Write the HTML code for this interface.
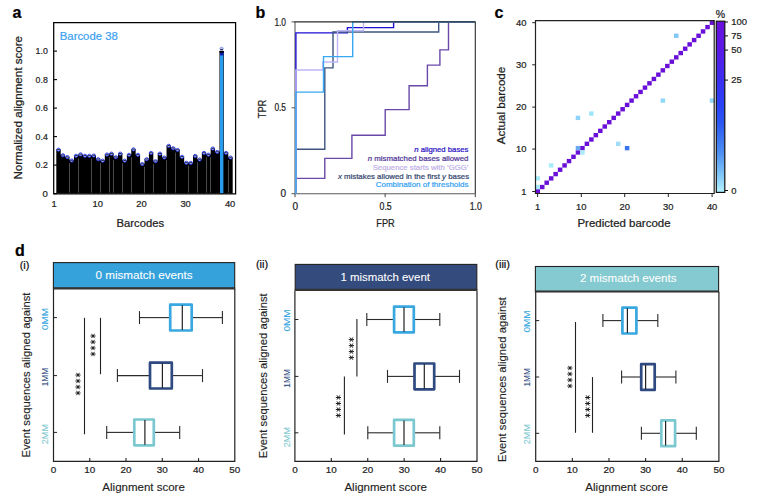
<!DOCTYPE html>
<html><head><meta charset="utf-8"><style>
html,body{margin:0;padding:0;background:#fff;width:760px;height:502px;overflow:hidden;}
svg{display:block;}
</style></head><body>
<svg width="760" height="502" viewBox="0 0 760 502" font-family='"Liberation Sans", sans-serif'><text x="12.5" y="18" font-size="16" text-anchor="start" fill="#000" font-weight="bold" font-style="normal" stroke="#000" stroke-width="0.22">a</text>
<text x="255.5" y="18" font-size="16" text-anchor="start" fill="#000" font-weight="bold" font-style="normal" stroke="#000" stroke-width="0.22">b</text>
<text x="494.5" y="18" font-size="16" text-anchor="start" fill="#000" font-weight="bold" font-style="normal" stroke="#000" stroke-width="0.22">c</text>
<text x="15" y="256" font-size="16" text-anchor="start" fill="#000" font-weight="bold" font-style="normal" stroke="#000" stroke-width="0.22">d</text>
<g>
<path d="M56.30,193.6 L56.30,149.28 L60.70,149.28 L60.70,154.84 L65.11,154.84 L65.11,156.69 L69.52,156.69 L69.53,160.11 L73.94,160.11 L73.94,155.41 L78.34,155.41 L78.34,153.98 L82.75,153.98 L82.76,155.41 L87.17,155.41 L87.17,155.41 L91.58,155.41 L91.58,155.12 L95.98,155.12 L95.98,158.83 L100.39,158.83 L100.39,160.25 L104.80,160.25 L104.81,154.13 L109.22,154.13 L109.22,153.27 L113.62,153.27 L113.62,156.83 L118.03,156.83 L118.04,153.27 L122.45,153.27 L122.45,160.25 L126.86,160.25 L126.86,154.41 L131.27,154.41 L131.26,149.00 L135.68,149.00 L135.67,154.41 L140.09,154.41 L140.09,163.68 L144.50,163.68 L144.49,158.83 L148.91,158.83 L148.91,152.56 L153.32,152.56 L153.31,160.82 L157.73,160.82 L157.72,153.27 L162.14,153.27 L162.13,157.12 L166.55,157.12 L166.54,145.44 L170.96,145.44 L170.95,147.86 L175.37,147.86 L175.36,149.57 L179.78,149.57 L179.78,156.41 L184.19,156.41 L184.18,162.39 L188.59,162.39 L188.59,162.53 L193.01,162.53 L193.00,155.55 L197.42,155.55 L197.41,159.12 L201.83,159.12 L201.82,152.56 L206.24,152.56 L206.23,154.27 L210.65,154.27 L210.64,148.14 L215.06,148.14 L215.05,151.56 L219.47,151.56 L219.47,50.90 L223.88,50.90 L223.88,152.56 L228.29,152.56 L228.28,157.12 L232.70,157.12 L232.70,193.6 Z" fill="#000"/>
<rect x="220" y="50.9" width="3.4" height="142.70" fill="#2a9cf0"/>
<line x1="69.50" y1="163.11" x2="69.50" y2="192.6" stroke="#4a4a4a" stroke-width="1"/>
<line x1="78.50" y1="158.41" x2="78.50" y2="192.6" stroke="#4a4a4a" stroke-width="1"/>
<line x1="91.50" y1="158.41" x2="91.50" y2="192.6" stroke="#4a4a4a" stroke-width="1"/>
<line x1="100.50" y1="163.25" x2="100.50" y2="192.6" stroke="#4a4a4a" stroke-width="1"/>
<line x1="109.50" y1="157.13" x2="109.50" y2="192.6" stroke="#4a4a4a" stroke-width="1"/>
<line x1="113.50" y1="159.83" x2="113.50" y2="192.6" stroke="#4a4a4a" stroke-width="1"/>
<line x1="122.50" y1="163.25" x2="122.50" y2="192.6" stroke="#4a4a4a" stroke-width="1"/>
<line x1="131.50" y1="157.41" x2="131.50" y2="192.6" stroke="#4a4a4a" stroke-width="1"/>
<line x1="144.50" y1="166.68" x2="144.50" y2="192.6" stroke="#4a4a4a" stroke-width="1"/>
<line x1="153.50" y1="163.82" x2="153.50" y2="192.6" stroke="#4a4a4a" stroke-width="1"/>
<line x1="166.50" y1="160.12" x2="166.50" y2="192.6" stroke="#4a4a4a" stroke-width="1"/>
<line x1="175.50" y1="152.57" x2="175.50" y2="192.6" stroke="#4a4a4a" stroke-width="1"/>
<line x1="188.50" y1="165.53" x2="188.50" y2="192.6" stroke="#4a4a4a" stroke-width="1"/>
<line x1="197.50" y1="162.12" x2="197.50" y2="192.6" stroke="#4a4a4a" stroke-width="1"/>
<line x1="206.50" y1="157.27" x2="206.50" y2="192.6" stroke="#4a4a4a" stroke-width="1"/>
<line x1="210.50" y1="157.27" x2="210.50" y2="192.6" stroke="#4a4a4a" stroke-width="1"/>
<line x1="228.50" y1="160.12" x2="228.50" y2="192.6" stroke="#4a4a4a" stroke-width="1"/>
<ellipse cx="58.50" cy="149.68" rx="1.7" ry="1.6" fill="#c0ccff" stroke="#1424e8" stroke-width="0.8"/>
<line x1="57.3" y1="149.4825" x2="59.7" y2="149.4825" stroke="#000" stroke-width="0.8"/>
<ellipse cx="62.91" cy="155.24" rx="1.7" ry="1.6" fill="#c0ccff" stroke="#1424e8" stroke-width="0.8"/>
<line x1="61.709999999999994" y1="155.03999999999996" x2="64.11" y2="155.03999999999996" stroke="#000" stroke-width="0.8"/>
<ellipse cx="67.32" cy="157.09" rx="1.7" ry="1.6" fill="#c0ccff" stroke="#1424e8" stroke-width="0.8"/>
<line x1="66.11999999999999" y1="156.89249999999998" x2="68.52" y2="156.89249999999998" stroke="#000" stroke-width="0.8"/>
<ellipse cx="71.73" cy="160.51" rx="1.7" ry="1.6" fill="#c0ccff" stroke="#1424e8" stroke-width="0.8"/>
<line x1="70.53" y1="160.3125" x2="72.93" y2="160.3125" stroke="#000" stroke-width="0.8"/>
<ellipse cx="76.14" cy="155.81" rx="1.7" ry="1.6" fill="#c0ccff" stroke="#1424e8" stroke-width="0.8"/>
<line x1="74.94" y1="155.60999999999999" x2="77.34" y2="155.60999999999999" stroke="#000" stroke-width="0.8"/>
<ellipse cx="80.55" cy="154.38" rx="1.7" ry="1.6" fill="#c0ccff" stroke="#1424e8" stroke-width="0.8"/>
<line x1="79.35" y1="154.18499999999997" x2="81.75" y2="154.18499999999997" stroke="#000" stroke-width="0.8"/>
<ellipse cx="84.96" cy="155.81" rx="1.7" ry="1.6" fill="#c0ccff" stroke="#1424e8" stroke-width="0.8"/>
<line x1="83.76" y1="155.60999999999999" x2="86.16000000000001" y2="155.60999999999999" stroke="#000" stroke-width="0.8"/>
<ellipse cx="89.37" cy="155.81" rx="1.7" ry="1.6" fill="#c0ccff" stroke="#1424e8" stroke-width="0.8"/>
<line x1="88.17" y1="155.60999999999999" x2="90.57000000000001" y2="155.60999999999999" stroke="#000" stroke-width="0.8"/>
<ellipse cx="93.78" cy="155.53" rx="1.7" ry="1.6" fill="#c0ccff" stroke="#1424e8" stroke-width="0.8"/>
<line x1="92.58" y1="155.325" x2="94.98" y2="155.325" stroke="#000" stroke-width="0.8"/>
<ellipse cx="98.19" cy="159.23" rx="1.7" ry="1.6" fill="#c0ccff" stroke="#1424e8" stroke-width="0.8"/>
<line x1="96.99" y1="159.02999999999997" x2="99.39" y2="159.02999999999997" stroke="#000" stroke-width="0.8"/>
<ellipse cx="102.60" cy="160.66" rx="1.7" ry="1.6" fill="#c0ccff" stroke="#1424e8" stroke-width="0.8"/>
<line x1="101.39999999999999" y1="160.45499999999998" x2="103.8" y2="160.45499999999998" stroke="#000" stroke-width="0.8"/>
<ellipse cx="107.01" cy="154.53" rx="1.7" ry="1.6" fill="#c0ccff" stroke="#1424e8" stroke-width="0.8"/>
<line x1="105.81" y1="154.3275" x2="108.21000000000001" y2="154.3275" stroke="#000" stroke-width="0.8"/>
<ellipse cx="111.42" cy="153.67" rx="1.7" ry="1.6" fill="#c0ccff" stroke="#1424e8" stroke-width="0.8"/>
<line x1="110.22" y1="153.4725" x2="112.62" y2="153.4725" stroke="#000" stroke-width="0.8"/>
<ellipse cx="115.83" cy="157.23" rx="1.7" ry="1.6" fill="#c0ccff" stroke="#1424e8" stroke-width="0.8"/>
<line x1="114.63" y1="157.03499999999997" x2="117.03" y2="157.03499999999997" stroke="#000" stroke-width="0.8"/>
<ellipse cx="120.24" cy="153.67" rx="1.7" ry="1.6" fill="#c0ccff" stroke="#1424e8" stroke-width="0.8"/>
<line x1="119.04" y1="153.4725" x2="121.44000000000001" y2="153.4725" stroke="#000" stroke-width="0.8"/>
<ellipse cx="124.65" cy="160.66" rx="1.7" ry="1.6" fill="#c0ccff" stroke="#1424e8" stroke-width="0.8"/>
<line x1="123.45" y1="160.45499999999998" x2="125.85000000000001" y2="160.45499999999998" stroke="#000" stroke-width="0.8"/>
<ellipse cx="129.06" cy="154.81" rx="1.7" ry="1.6" fill="#c0ccff" stroke="#1424e8" stroke-width="0.8"/>
<line x1="127.86" y1="154.61249999999998" x2="130.26" y2="154.61249999999998" stroke="#000" stroke-width="0.8"/>
<ellipse cx="133.47" cy="149.40" rx="1.7" ry="1.6" fill="#c0ccff" stroke="#1424e8" stroke-width="0.8"/>
<line x1="132.27" y1="149.1975" x2="134.67" y2="149.1975" stroke="#000" stroke-width="0.8"/>
<ellipse cx="137.88" cy="154.81" rx="1.7" ry="1.6" fill="#c0ccff" stroke="#1424e8" stroke-width="0.8"/>
<line x1="136.68" y1="154.61249999999998" x2="139.07999999999998" y2="154.61249999999998" stroke="#000" stroke-width="0.8"/>
<ellipse cx="142.29" cy="164.08" rx="1.7" ry="1.6" fill="#c0ccff" stroke="#1424e8" stroke-width="0.8"/>
<line x1="141.09000000000003" y1="163.875" x2="143.49" y2="163.875" stroke="#000" stroke-width="0.8"/>
<ellipse cx="146.70" cy="159.23" rx="1.7" ry="1.6" fill="#c0ccff" stroke="#1424e8" stroke-width="0.8"/>
<line x1="145.5" y1="159.02999999999997" x2="147.89999999999998" y2="159.02999999999997" stroke="#000" stroke-width="0.8"/>
<ellipse cx="151.11" cy="152.96" rx="1.7" ry="1.6" fill="#c0ccff" stroke="#1424e8" stroke-width="0.8"/>
<line x1="149.91000000000003" y1="152.76" x2="152.31" y2="152.76" stroke="#000" stroke-width="0.8"/>
<ellipse cx="155.52" cy="161.22" rx="1.7" ry="1.6" fill="#c0ccff" stroke="#1424e8" stroke-width="0.8"/>
<line x1="154.32000000000002" y1="161.02499999999998" x2="156.72" y2="161.02499999999998" stroke="#000" stroke-width="0.8"/>
<ellipse cx="159.93" cy="153.67" rx="1.7" ry="1.6" fill="#c0ccff" stroke="#1424e8" stroke-width="0.8"/>
<line x1="158.73000000000002" y1="153.4725" x2="161.13" y2="153.4725" stroke="#000" stroke-width="0.8"/>
<ellipse cx="164.34" cy="157.52" rx="1.7" ry="1.6" fill="#c0ccff" stroke="#1424e8" stroke-width="0.8"/>
<line x1="163.14000000000001" y1="157.32" x2="165.54" y2="157.32" stroke="#000" stroke-width="0.8"/>
<ellipse cx="168.75" cy="145.84" rx="1.7" ry="1.6" fill="#c0ccff" stroke="#1424e8" stroke-width="0.8"/>
<line x1="167.55" y1="145.635" x2="169.95" y2="145.635" stroke="#000" stroke-width="0.8"/>
<ellipse cx="173.16" cy="148.26" rx="1.7" ry="1.6" fill="#c0ccff" stroke="#1424e8" stroke-width="0.8"/>
<line x1="171.96" y1="148.05749999999998" x2="174.35999999999999" y2="148.05749999999998" stroke="#000" stroke-width="0.8"/>
<ellipse cx="177.57" cy="149.97" rx="1.7" ry="1.6" fill="#c0ccff" stroke="#1424e8" stroke-width="0.8"/>
<line x1="176.37" y1="149.76749999999998" x2="178.76999999999998" y2="149.76749999999998" stroke="#000" stroke-width="0.8"/>
<ellipse cx="181.98" cy="156.81" rx="1.7" ry="1.6" fill="#c0ccff" stroke="#1424e8" stroke-width="0.8"/>
<line x1="180.78000000000003" y1="156.6075" x2="183.18" y2="156.6075" stroke="#000" stroke-width="0.8"/>
<ellipse cx="186.39" cy="162.79" rx="1.7" ry="1.6" fill="#c0ccff" stroke="#1424e8" stroke-width="0.8"/>
<line x1="185.19" y1="162.59249999999997" x2="187.58999999999997" y2="162.59249999999997" stroke="#000" stroke-width="0.8"/>
<ellipse cx="190.80" cy="162.94" rx="1.7" ry="1.6" fill="#c0ccff" stroke="#1424e8" stroke-width="0.8"/>
<line x1="189.60000000000002" y1="162.73499999999999" x2="192.0" y2="162.73499999999999" stroke="#000" stroke-width="0.8"/>
<ellipse cx="195.21" cy="155.95" rx="1.7" ry="1.6" fill="#c0ccff" stroke="#1424e8" stroke-width="0.8"/>
<line x1="194.01000000000002" y1="155.7525" x2="196.41" y2="155.7525" stroke="#000" stroke-width="0.8"/>
<ellipse cx="199.62" cy="159.52" rx="1.7" ry="1.6" fill="#c0ccff" stroke="#1424e8" stroke-width="0.8"/>
<line x1="198.42000000000002" y1="159.315" x2="200.82" y2="159.315" stroke="#000" stroke-width="0.8"/>
<ellipse cx="204.03" cy="152.96" rx="1.7" ry="1.6" fill="#c0ccff" stroke="#1424e8" stroke-width="0.8"/>
<line x1="202.83" y1="152.76" x2="205.23" y2="152.76" stroke="#000" stroke-width="0.8"/>
<ellipse cx="208.44" cy="154.67" rx="1.7" ry="1.6" fill="#c0ccff" stroke="#1424e8" stroke-width="0.8"/>
<line x1="207.24" y1="154.46999999999997" x2="209.64" y2="154.46999999999997" stroke="#000" stroke-width="0.8"/>
<ellipse cx="212.85" cy="148.54" rx="1.7" ry="1.6" fill="#c0ccff" stroke="#1424e8" stroke-width="0.8"/>
<line x1="211.65" y1="148.34249999999997" x2="214.04999999999998" y2="148.34249999999997" stroke="#000" stroke-width="0.8"/>
<ellipse cx="217.26" cy="151.96" rx="1.7" ry="1.6" fill="#c0ccff" stroke="#1424e8" stroke-width="0.8"/>
<line x1="216.06" y1="151.7625" x2="218.45999999999998" y2="151.7625" stroke="#000" stroke-width="0.8"/>
<rect x="220" y="50.9" width="3.4" height="4.5" fill="#0818b0"/>
<rect x="219.5" y="50.9" width="4.2" height="1.8" fill="#000"/>
<ellipse cx="221.6" cy="48.6" rx="1.8" ry="1.4" fill="#b0c0f8" stroke="#6070d0" stroke-width="0.5"/>
<line x1="220.3" y1="49.6" x2="222.9" y2="49.6" stroke="#000" stroke-width="0.8"/>
<ellipse cx="226.08" cy="152.96" rx="1.7" ry="1.6" fill="#c0ccff" stroke="#1424e8" stroke-width="0.8"/>
<line x1="224.88000000000002" y1="152.76" x2="227.28" y2="152.76" stroke="#000" stroke-width="0.8"/>
<ellipse cx="230.49" cy="157.52" rx="1.7" ry="1.6" fill="#c0ccff" stroke="#1424e8" stroke-width="0.8"/>
<line x1="229.29000000000002" y1="157.32" x2="231.69" y2="157.32" stroke="#000" stroke-width="0.8"/>
</g>
<path d="M53.7,22.7 H235.6 V193.9 H53.7 Z" fill="none" stroke="#000" stroke-width="1.25"/>
<line x1="53.7" y1="193.6" x2="57.0" y2="193.6" stroke="#000" stroke-width="1.1"/>
<text x="47.8" y="196.5" font-size="9.6" text-anchor="end" fill="#222" font-weight="normal" font-style="normal" stroke="#222" stroke-width="0.22">0</text>
<line x1="53.7" y1="165.1" x2="57.0" y2="165.1" stroke="#000" stroke-width="1.1"/>
<text x="47.8" y="168.0" font-size="9.6" text-anchor="end" fill="#222" font-weight="normal" font-style="normal" textLength="12.2" lengthAdjust="spacingAndGlyphs" stroke="#222" stroke-width="0.22">0.2</text>
<line x1="53.7" y1="136.6" x2="57.0" y2="136.6" stroke="#000" stroke-width="1.1"/>
<text x="47.8" y="139.5" font-size="9.6" text-anchor="end" fill="#222" font-weight="normal" font-style="normal" textLength="12.2" lengthAdjust="spacingAndGlyphs" stroke="#222" stroke-width="0.22">0.4</text>
<line x1="53.7" y1="108.1" x2="57.0" y2="108.1" stroke="#000" stroke-width="1.1"/>
<text x="47.8" y="111.0" font-size="9.6" text-anchor="end" fill="#222" font-weight="normal" font-style="normal" textLength="12.2" lengthAdjust="spacingAndGlyphs" stroke="#222" stroke-width="0.22">0.6</text>
<line x1="53.7" y1="79.6" x2="57.0" y2="79.6" stroke="#000" stroke-width="1.1"/>
<text x="47.8" y="82.5" font-size="9.6" text-anchor="end" fill="#222" font-weight="normal" font-style="normal" textLength="12.2" lengthAdjust="spacingAndGlyphs" stroke="#222" stroke-width="0.22">0.8</text>
<line x1="53.7" y1="51.099999999999994" x2="57.0" y2="51.099999999999994" stroke="#000" stroke-width="1.1"/>
<text x="47.8" y="53.99999999999999" font-size="9.6" text-anchor="end" fill="#222" font-weight="normal" font-style="normal" textLength="12.2" lengthAdjust="spacingAndGlyphs" stroke="#222" stroke-width="0.22">1.0</text>
<text x="54.2" y="207.2" font-size="9.4" text-anchor="middle" fill="#222" font-weight="normal" font-style="normal" stroke="#222" stroke-width="0.22">1</text>
<text x="97.8" y="207.2" font-size="9.4" text-anchor="middle" fill="#222" font-weight="normal" font-style="normal" stroke="#222" stroke-width="0.22">10</text>
<text x="141.4" y="207.2" font-size="9.4" text-anchor="middle" fill="#222" font-weight="normal" font-style="normal" stroke="#222" stroke-width="0.22">20</text>
<text x="185.6" y="207.2" font-size="9.4" text-anchor="middle" fill="#222" font-weight="normal" font-style="normal" stroke="#222" stroke-width="0.22">30</text>
<text x="230.1" y="207.2" font-size="9.4" text-anchor="middle" fill="#222" font-weight="normal" font-style="normal" stroke="#222" stroke-width="0.22">40</text>
<text x="140.3" y="226.7" font-size="10.5" text-anchor="middle" fill="#222" font-weight="normal" font-style="normal" textLength="47.5" lengthAdjust="spacingAndGlyphs" stroke="#222" stroke-width="0.22">Barcodes</text>
<text transform="translate(22.2,107.8) rotate(-90)" x="0" y="0" font-size="10.8" text-anchor="middle" fill="#222" font-weight="normal" font-style="normal" textLength="143.5" lengthAdjust="spacingAndGlyphs" stroke="#222" stroke-width="0.22">Normalized alignment score</text>
<text x="59.8" y="40.2" font-size="11.8" text-anchor="start" fill="#3a9ff0" font-weight="normal" font-style="normal" textLength="58" lengthAdjust="spacingAndGlyphs" stroke="#3a9ff0" stroke-width="0.22">Barcode 38</text>
<path d="M295,193.7 H475.3" fill="none" stroke="#5a5a5a" stroke-width="1.15"/>
<path d="M295,21.9 V193.7" fill="none" stroke="#666" stroke-width="1.15"/>
<path d="M475.3,193.7 V21.9" fill="none" stroke="#2a2a2a" stroke-width="1.1"/>
<line x1="291.5" y1="193.7" x2="295" y2="193.7" stroke="#555" stroke-width="1"/>
<text x="286" y="197.29999999999998" font-size="10" text-anchor="end" fill="#222" font-weight="normal" font-style="normal" stroke="#222" stroke-width="0.22">0</text>
<line x1="295.0" y1="193.7" x2="295.0" y2="197.2" stroke="#444" stroke-width="1"/>
<text x="295.3" y="210" font-size="10" text-anchor="middle" fill="#222" font-weight="normal" font-style="normal" stroke="#222" stroke-width="0.22">0</text>
<line x1="291.5" y1="107.8" x2="295" y2="107.8" stroke="#555" stroke-width="1"/>
<text x="286" y="111.39999999999999" font-size="10" text-anchor="end" fill="#222" font-weight="normal" font-style="normal" textLength="11.6" lengthAdjust="spacingAndGlyphs" stroke="#222" stroke-width="0.22">0.5</text>
<line x1="385.15" y1="193.7" x2="385.15" y2="197.2" stroke="#444" stroke-width="1"/>
<text x="385.65" y="210" font-size="10" text-anchor="middle" fill="#222" font-weight="normal" font-style="normal" textLength="12.2" lengthAdjust="spacingAndGlyphs" stroke="#222" stroke-width="0.22">0.5</text>
<line x1="291.5" y1="21.900000000000006" x2="295" y2="21.900000000000006" stroke="#555" stroke-width="1"/>
<text x="286" y="25.500000000000007" font-size="10" text-anchor="end" fill="#222" font-weight="normal" font-style="normal" textLength="11.6" lengthAdjust="spacingAndGlyphs" stroke="#222" stroke-width="0.22">1.0</text>
<line x1="475.3" y1="193.7" x2="475.3" y2="197.2" stroke="#444" stroke-width="1"/>
<text x="475.8" y="210" font-size="10" text-anchor="middle" fill="#222" font-weight="normal" font-style="normal" textLength="12.2" lengthAdjust="spacingAndGlyphs" stroke="#222" stroke-width="0.22">1.0</text>
<text transform="translate(266.4,109) rotate(-90)" x="0" y="0" font-size="10.5" text-anchor="middle" fill="#222" font-weight="normal" font-style="normal" textLength="18.6" lengthAdjust="spacingAndGlyphs" stroke="#222" stroke-width="0.22">TPR</text>
<text x="385.5" y="226.9" font-size="10.5" text-anchor="middle" fill="#222" font-weight="normal" font-style="normal" textLength="18.4" lengthAdjust="spacingAndGlyphs" stroke="#222" stroke-width="0.22">FPR</text>
<path d="M295.9,193.7 L295.9,32.9 L347.4,32.9 L347.4,27.6 L393.6,27.6 L393.6,21.9 L475,21.9" fill="none" stroke="#1e10d4" stroke-width="1.4" stroke-linejoin="miter"/>
<path d="M295.9,193.7 L295.9,178.4 L324.8,178.4 L324.8,158.4 L351.9,158.4 L351.9,135.3 L385.2,135.3 L385.2,109.6 L409.1,109.6 L409.1,85.7 L427.4,85.7 L427.4,65.1 L439.9,65.1 L439.9,49.9 L448.5,49.9 L448.5,21.9 L475,21.9" fill="none" stroke="#6a48a8" stroke-width="1.4" stroke-linejoin="miter"/>
<path d="M295.9,193.7 L295.9,149.2 L324.8,149.2 L324.8,67.9 L333,67.9 L333,32 L438.7,32 L438.7,21.9 L475,21.9" fill="none" stroke="#3d5580" stroke-width="1.4" stroke-linejoin="miter"/>
<path d="M295.9,193.7 L295.9,70 L322.8,70 L322.8,62 L337.5,62 L337.5,30.8 L363.5,30.8 L363.5,21.9 L475,21.9" fill="none" stroke="#bfb6f8" stroke-width="1.4" stroke-linejoin="miter"/>
<path d="M295.9,193.7 L295.9,92.1 L323.5,92.1 L323.5,56.6 L352.7,56.6 L352.7,21.9 L475,21.9" fill="none" stroke="#38a8f0" stroke-width="1.4" stroke-linejoin="miter"/>
<line x1="294.5" y1="21.9" x2="475.8" y2="21.9" stroke="#2a2a2a" stroke-width="1.1"/>
<text x="468.5" y="151.9" font-size="8" text-anchor="end" fill="#2a12c4" font-weight="normal" font-style="normal" textLength="54.3" lengthAdjust="spacingAndGlyphs" stroke="#2a12c4" stroke-width="0.22"><tspan font-style="italic">n</tspan> aligned bases</text>
<text x="468.5" y="160.8" font-size="8" text-anchor="end" fill="#4f3596" font-weight="normal" font-style="normal" textLength="100.7" lengthAdjust="spacingAndGlyphs" stroke="#4f3596" stroke-width="0.22"><tspan font-style="italic">n</tspan> mismatched bases allowed</text>
<text x="468.5" y="170.1" font-size="8" text-anchor="end" fill="#bfb2e8" font-weight="normal" font-style="normal" textLength="95.8" lengthAdjust="spacingAndGlyphs" stroke="#bfb2e8" stroke-width="0.22">Sequence starts with ‘GGG’</text>
<text x="469.1" y="179" font-size="8" text-anchor="end" fill="#34466e" font-weight="normal" font-style="normal" textLength="131.2" lengthAdjust="spacingAndGlyphs" stroke="#34466e" stroke-width="0.22"><tspan font-style="italic">x</tspan> mistakes allowed in the first <tspan font-style="italic">y</tspan> bases</text>
<text x="468.5" y="187.3" font-size="8" text-anchor="end" fill="#36a2f4" font-weight="normal" font-style="normal" textLength="92.8" lengthAdjust="spacingAndGlyphs" stroke="#36a2f4" stroke-width="0.22">Combination of thresholds</text>
<rect x="535.50" y="189.18" width="4.52" height="4.37" fill="#6a0fd8"/>
<rect x="539.97" y="184.85" width="4.52" height="4.37" fill="#6a0fd8"/>
<rect x="544.43" y="180.53" width="4.52" height="4.37" fill="#6a0fd8"/>
<rect x="548.90" y="176.21" width="4.52" height="4.37" fill="#6a0fd8"/>
<rect x="553.37" y="171.89" width="4.52" height="4.37" fill="#6a0fd8"/>
<rect x="557.84" y="167.56" width="4.52" height="4.37" fill="#6a0fd8"/>
<rect x="562.31" y="163.24" width="4.52" height="4.37" fill="#6a0fd8"/>
<rect x="566.77" y="158.92" width="4.52" height="4.37" fill="#6a0fd8"/>
<rect x="571.24" y="154.60" width="4.52" height="4.37" fill="#6a0fd8"/>
<rect x="575.71" y="150.28" width="4.52" height="4.37" fill="#6a0fd8"/>
<rect x="580.17" y="145.95" width="4.52" height="4.37" fill="#6a0fd8"/>
<rect x="584.64" y="141.63" width="4.52" height="4.37" fill="#6a0fd8"/>
<rect x="589.11" y="137.31" width="4.52" height="4.37" fill="#6a0fd8"/>
<rect x="593.58" y="132.99" width="4.52" height="4.37" fill="#6a0fd8"/>
<rect x="598.05" y="128.66" width="4.52" height="4.37" fill="#6a0fd8"/>
<rect x="602.51" y="124.34" width="4.52" height="4.37" fill="#6a0fd8"/>
<rect x="606.98" y="120.02" width="4.52" height="4.37" fill="#6a0fd8"/>
<rect x="611.45" y="115.70" width="4.52" height="4.37" fill="#6a0fd8"/>
<rect x="615.91" y="111.37" width="4.52" height="4.37" fill="#6a0fd8"/>
<rect x="620.38" y="107.05" width="4.52" height="4.37" fill="#6a0fd8"/>
<rect x="624.85" y="102.73" width="4.52" height="4.37" fill="#6a0fd8"/>
<rect x="629.32" y="98.41" width="4.52" height="4.37" fill="#6a0fd8"/>
<rect x="633.79" y="94.08" width="4.52" height="4.37" fill="#6a0fd8"/>
<rect x="638.25" y="89.76" width="4.52" height="4.37" fill="#6a0fd8"/>
<rect x="642.72" y="85.44" width="4.52" height="4.37" fill="#6a0fd8"/>
<rect x="647.19" y="81.12" width="4.52" height="4.37" fill="#6a0fd8"/>
<rect x="651.65" y="76.79" width="4.52" height="4.37" fill="#6a0fd8"/>
<rect x="656.12" y="72.47" width="4.52" height="4.37" fill="#6a0fd8"/>
<rect x="660.59" y="68.15" width="4.52" height="4.37" fill="#6a0fd8"/>
<rect x="665.06" y="63.83" width="4.52" height="4.37" fill="#6a0fd8"/>
<rect x="669.53" y="59.50" width="4.52" height="4.37" fill="#6a0fd8"/>
<rect x="673.99" y="55.18" width="4.52" height="4.37" fill="#6a0fd8"/>
<rect x="678.46" y="50.86" width="4.52" height="4.37" fill="#6a0fd8"/>
<rect x="682.93" y="46.53" width="4.52" height="4.37" fill="#6a0fd8"/>
<rect x="687.39" y="42.21" width="4.52" height="4.37" fill="#6a0fd8"/>
<rect x="691.86" y="37.89" width="4.52" height="4.37" fill="#6a0fd8"/>
<rect x="696.33" y="33.57" width="4.52" height="4.37" fill="#6a0fd8"/>
<rect x="700.80" y="29.25" width="4.52" height="4.37" fill="#6a0fd8"/>
<rect x="705.27" y="24.92" width="4.52" height="4.37" fill="#6a0fd8"/>
<rect x="709.73" y="20.60" width="4.52" height="4.37" fill="#6a0fd8"/>
<rect x="535.50" y="184.85" width="4.52" height="4.37" fill="#a8ecfc"/>
<rect x="535.50" y="176.21" width="4.52" height="4.37" fill="#a8ecfc"/>
<rect x="548.90" y="163.24" width="4.52" height="4.37" fill="#a8ecfc"/>
<rect x="575.71" y="115.70" width="4.52" height="4.37" fill="#90d2f8"/>
<rect x="589.11" y="111.37" width="4.52" height="4.37" fill="#a0e4fa"/>
<rect x="575.71" y="145.95" width="4.52" height="4.37" fill="#6aa8f2"/>
<rect x="580.17" y="150.28" width="4.52" height="4.37" fill="#a8ecfc"/>
<rect x="615.91" y="141.63" width="4.52" height="4.37" fill="#a0dcf8"/>
<rect x="624.85" y="145.95" width="4.52" height="4.37" fill="#3a74e8"/>
<rect x="673.99" y="33.57" width="4.52" height="4.37" fill="#80c8f8"/>
<rect x="660.59" y="98.41" width="4.52" height="4.37" fill="#90d8f8"/>
<rect x="709.73" y="98.41" width="4.52" height="4.37" fill="#90d8f8"/>
<path d="M535.5,20.6 H714.2 V193.5 H535.5 Z" fill="none" stroke="#222" stroke-width="1.2"/>
<line x1="532.2" y1="191.5" x2="535.5" y2="191.5" stroke="#222" stroke-width="1"/>
<text x="526.4" y="194.8" font-size="9.4" text-anchor="end" fill="#222" font-weight="normal" font-style="normal" stroke="#222" stroke-width="0.22">1</text>
<line x1="532.2" y1="149.1" x2="535.5" y2="149.1" stroke="#222" stroke-width="1"/>
<text x="526.4" y="152.4" font-size="9.4" text-anchor="end" fill="#222" font-weight="normal" font-style="normal" stroke="#222" stroke-width="0.22">10</text>
<line x1="532.2" y1="107.1" x2="535.5" y2="107.1" stroke="#222" stroke-width="1"/>
<text x="526.4" y="110.39999999999999" font-size="9.4" text-anchor="end" fill="#222" font-weight="normal" font-style="normal" stroke="#222" stroke-width="0.22">20</text>
<line x1="532.2" y1="64.8" x2="535.5" y2="64.8" stroke="#222" stroke-width="1"/>
<text x="526.4" y="68.1" font-size="9.4" text-anchor="end" fill="#222" font-weight="normal" font-style="normal" stroke="#222" stroke-width="0.22">30</text>
<line x1="532.2" y1="22.7" x2="535.5" y2="22.7" stroke="#222" stroke-width="1"/>
<text x="526.4" y="26.0" font-size="9.4" text-anchor="end" fill="#222" font-weight="normal" font-style="normal" stroke="#222" stroke-width="0.22">40</text>
<line x1="537.6" y1="193.5" x2="537.6" y2="197.0" stroke="#222" stroke-width="1"/>
<text x="537.6" y="210" font-size="9.4" text-anchor="middle" fill="#222" font-weight="normal" font-style="normal" stroke="#222" stroke-width="0.22">1</text>
<line x1="581.3" y1="193.5" x2="581.3" y2="197.0" stroke="#222" stroke-width="1"/>
<text x="581.3" y="210" font-size="9.4" text-anchor="middle" fill="#222" font-weight="normal" font-style="normal" stroke="#222" stroke-width="0.22">10</text>
<line x1="624.7" y1="193.5" x2="624.7" y2="197.0" stroke="#222" stroke-width="1"/>
<text x="624.7" y="210" font-size="9.4" text-anchor="middle" fill="#222" font-weight="normal" font-style="normal" stroke="#222" stroke-width="0.22">20</text>
<line x1="668.3" y1="193.5" x2="668.3" y2="197.0" stroke="#222" stroke-width="1"/>
<text x="668.3" y="210" font-size="9.4" text-anchor="middle" fill="#222" font-weight="normal" font-style="normal" stroke="#222" stroke-width="0.22">30</text>
<line x1="712.1" y1="193.5" x2="712.1" y2="197.0" stroke="#222" stroke-width="1"/>
<text x="712.1" y="210" font-size="9.4" text-anchor="middle" fill="#222" font-weight="normal" font-style="normal" stroke="#222" stroke-width="0.22">40</text>
<text x="624" y="226.8" font-size="10.5" text-anchor="middle" fill="#222" font-weight="normal" font-style="normal" textLength="93.1" lengthAdjust="spacingAndGlyphs" stroke="#222" stroke-width="0.22">Predicted barcode</text>
<text transform="translate(505.1,105.5) rotate(-90)" x="0" y="0" font-size="10.5" text-anchor="middle" fill="#222" font-weight="normal" font-style="normal" textLength="77.6" lengthAdjust="spacingAndGlyphs" stroke="#222" stroke-width="0.22">Actual barcode</text>
<defs><linearGradient id="cbg" x1="0" y1="0" x2="0" y2="1"><stop offset="0" stop-color="#6a10dc"/><stop offset="0.17" stop-color="#5a1ae6"/><stop offset="0.35" stop-color="#3a30f0"/><stop offset="0.5" stop-color="#2a44f6"/><stop offset="0.6" stop-color="#2c58f2"/><stop offset="0.76" stop-color="#4a8cf2"/><stop offset="0.9" stop-color="#80c8f8"/><stop offset="1" stop-color="#b4f2fe"/></linearGradient></defs>
<rect x="716.3" y="21.2" width="8.5" height="171.2" fill="url(#cbg)" stroke="#111" stroke-width="1.2"/>
<line x1="724.8" y1="22" x2="728" y2="22" stroke="#111" stroke-width="1"/>
<text x="731.2" y="25.2" font-size="9.4" text-anchor="start" fill="#222" font-weight="normal" font-style="normal" textLength="15.8" lengthAdjust="spacingAndGlyphs" stroke="#222" stroke-width="0.22">100</text>
<line x1="724.8" y1="35.9" x2="728" y2="35.9" stroke="#111" stroke-width="1"/>
<text x="731.2" y="39.1" font-size="9.4" text-anchor="start" fill="#222" font-weight="normal" font-style="normal" stroke="#222" stroke-width="0.22">75</text>
<line x1="724.8" y1="50.1" x2="728" y2="50.1" stroke="#111" stroke-width="1"/>
<text x="731.2" y="53.300000000000004" font-size="9.4" text-anchor="start" fill="#222" font-weight="normal" font-style="normal" stroke="#222" stroke-width="0.22">50</text>
<line x1="724.8" y1="80.1" x2="728" y2="80.1" stroke="#111" stroke-width="1"/>
<text x="731.2" y="83.3" font-size="9.4" text-anchor="start" fill="#222" font-weight="normal" font-style="normal" stroke="#222" stroke-width="0.22">25</text>
<line x1="724.8" y1="190.5" x2="728" y2="190.5" stroke="#111" stroke-width="1"/>
<text x="731.2" y="193.7" font-size="9.4" text-anchor="start" fill="#222" font-weight="normal" font-style="normal" stroke="#222" stroke-width="0.22">0</text>
<text x="720.3" y="17.5" font-size="10.5" text-anchor="middle" fill="#222" font-weight="normal" font-style="normal" stroke="#222" stroke-width="0.22">%</text>
<text x="19.7" y="268.7" font-size="11" text-anchor="start" fill="#111" font-weight="normal" font-style="normal" stroke="#111" stroke-width="0.22">(i)</text>
<rect x="53.4" y="262.6" width="181.29999999999998" height="25.69999999999999" fill="#36a2dc" stroke="#222" stroke-width="1.1"/>
<line x1="52.9" y1="288.3" x2="235.2" y2="288.3" stroke="#333" stroke-width="2.2"/>
<text x="144" y="278.9" font-size="11.5" text-anchor="middle" fill="#fff" font-weight="normal" font-style="normal" textLength="97" lengthAdjust="spacingAndGlyphs" stroke="#fff" stroke-width="0.08">0 mismatch events</text>
<path d="M53.5,289 V461.3 H234.8 V289" fill="none" stroke="#222" stroke-width="1.2"/>
<text x="53.5" y="472.90000000000003" font-size="9.9" text-anchor="middle" fill="#222" font-weight="normal" font-style="normal" stroke="#222" stroke-width="0.22">0</text>
<line x1="89.76" y1="461.3" x2="89.76" y2="458.1" stroke="#222" stroke-width="1.1"/>
<text x="89.76" y="472.90000000000003" font-size="9.9" text-anchor="middle" fill="#222" font-weight="normal" font-style="normal" stroke="#222" stroke-width="0.22">10</text>
<line x1="126.02000000000001" y1="461.3" x2="126.02000000000001" y2="458.1" stroke="#222" stroke-width="1.1"/>
<text x="126.02000000000001" y="472.90000000000003" font-size="9.9" text-anchor="middle" fill="#222" font-weight="normal" font-style="normal" stroke="#222" stroke-width="0.22">20</text>
<line x1="162.28000000000003" y1="461.3" x2="162.28000000000003" y2="458.1" stroke="#222" stroke-width="1.1"/>
<text x="162.28000000000003" y="472.90000000000003" font-size="9.9" text-anchor="middle" fill="#222" font-weight="normal" font-style="normal" stroke="#222" stroke-width="0.22">30</text>
<line x1="198.54000000000002" y1="461.3" x2="198.54000000000002" y2="458.1" stroke="#222" stroke-width="1.1"/>
<text x="198.54000000000002" y="472.90000000000003" font-size="9.9" text-anchor="middle" fill="#222" font-weight="normal" font-style="normal" stroke="#222" stroke-width="0.22">40</text>
<text x="234.8" y="472.90000000000003" font-size="9.9" text-anchor="middle" fill="#222" font-weight="normal" font-style="normal" stroke="#222" stroke-width="0.22">50</text>
<text x="143.6" y="491.0" font-size="11" text-anchor="middle" fill="#222" font-weight="normal" font-style="normal" textLength="82.5" lengthAdjust="spacingAndGlyphs" stroke="#222" stroke-width="0.12">Alignment score</text>
<text transform="translate(30.099999999999998,375.1) rotate(-90)" x="0" y="0" font-size="11" text-anchor="middle" fill="#222" font-weight="normal" font-style="normal" textLength="165" lengthAdjust="spacingAndGlyphs" stroke="#222" stroke-width="0.12">Event sequences aligned against</text>
<line x1="53.5" y1="317.6" x2="57.0" y2="317.6" stroke="#222" stroke-width="1"/>
<text transform="translate(48.4,330.2) rotate(-90)" x="0" y="0" font-size="9.5" text-anchor="start" fill="#3aa8e0" font-weight="normal" font-style="normal" textLength="22.3" lengthAdjust="spacingAndGlyphs" stroke="#3aa8e0" stroke-width="0.1">0MM</text>
<line x1="53.5" y1="375.6" x2="57.0" y2="375.6" stroke="#222" stroke-width="1"/>
<text transform="translate(48.4,386.3) rotate(-90)" x="0" y="0" font-size="9.5" text-anchor="start" fill="#2e4a80" font-weight="normal" font-style="normal" textLength="18.5" lengthAdjust="spacingAndGlyphs" stroke="#2e4a80" stroke-width="0.1">1MM</text>
<line x1="53.5" y1="432.4" x2="57.0" y2="432.4" stroke="#222" stroke-width="1"/>
<text transform="translate(48.4,444.20000000000005) rotate(-90)" x="0" y="0" font-size="9.5" text-anchor="start" fill="#7cc8d0" font-weight="normal" font-style="normal" textLength="20.2" lengthAdjust="spacingAndGlyphs" stroke="#7cc8d0" stroke-width="0.1">2MM</text>
<line x1="139.5" y1="317.6" x2="170.2" y2="317.6" stroke="#2a2a2a" stroke-width="1.1"/>
<line x1="191.7" y1="317.6" x2="222.4" y2="317.6" stroke="#2a2a2a" stroke-width="1.1"/>
<line x1="139.5" y1="311.1" x2="139.5" y2="324.1" stroke="#2a2a2a" stroke-width="1.1"/>
<line x1="222.4" y1="311.1" x2="222.4" y2="324.1" stroke="#2a2a2a" stroke-width="1.1"/>
<rect x="170.2" y="304.70000000000005" width="21.5" height="25.8" fill="#fff" stroke="#3aa8e0" stroke-width="2.7" stroke-linejoin="round"/>
<line x1="182.3" y1="305.3" x2="182.3" y2="329.90000000000003" stroke="#222" stroke-width="1.2"/>
<line x1="117.4" y1="375.6" x2="150.0" y2="375.6" stroke="#2a2a2a" stroke-width="1.1"/>
<line x1="171.8" y1="375.6" x2="202.5" y2="375.6" stroke="#2a2a2a" stroke-width="1.1"/>
<line x1="117.4" y1="369.1" x2="117.4" y2="382.1" stroke="#2a2a2a" stroke-width="1.1"/>
<line x1="202.5" y1="369.1" x2="202.5" y2="382.1" stroke="#2a2a2a" stroke-width="1.1"/>
<rect x="150.0" y="362.70000000000005" width="21.80000000000001" height="25.8" fill="#fff" stroke="#2e4a80" stroke-width="2.7" stroke-linejoin="round"/>
<line x1="162.4" y1="363.3" x2="162.4" y2="387.90000000000003" stroke="#222" stroke-width="1.2"/>
<line x1="106.7" y1="432.4" x2="134.3" y2="432.4" stroke="#2a2a2a" stroke-width="1.1"/>
<line x1="153.8" y1="432.4" x2="179.7" y2="432.4" stroke="#2a2a2a" stroke-width="1.1"/>
<line x1="106.7" y1="425.9" x2="106.7" y2="438.9" stroke="#2a2a2a" stroke-width="1.1"/>
<line x1="179.7" y1="425.9" x2="179.7" y2="438.9" stroke="#2a2a2a" stroke-width="1.1"/>
<rect x="134.3" y="419.5" width="19.5" height="25.8" fill="#fff" stroke="#7cc8d0" stroke-width="2.7" stroke-linejoin="round"/>
<line x1="144.9" y1="420.09999999999997" x2="144.9" y2="444.7" stroke="#222" stroke-width="1.2"/>
<line x1="100.5" y1="317.8" x2="100.5" y2="374.2" stroke="#222" stroke-width="1.1"/>
<path d="M90.40,336.00 L95.60,336.00 M91.51,333.87 L94.49,338.13 M94.49,333.87 L91.51,338.13 " stroke="#151515" stroke-width="0.95" fill="none"/>
<path d="M90.40,342.00 L95.60,342.00 M91.51,339.87 L94.49,344.13 M94.49,339.87 L91.51,344.13 " stroke="#151515" stroke-width="0.95" fill="none"/>
<path d="M90.40,348.00 L95.60,348.00 M91.51,345.87 L94.49,350.13 M94.49,345.87 L91.51,350.13 " stroke="#151515" stroke-width="0.95" fill="none"/>
<path d="M90.40,354.00 L95.60,354.00 M91.51,351.87 L94.49,356.13 M94.49,351.87 L91.51,356.13 " stroke="#151515" stroke-width="0.95" fill="none"/>
<line x1="84.5" y1="317.8" x2="84.5" y2="434.3" stroke="#222" stroke-width="1.1"/>
<path d="M75.40,375.00 L80.60,375.00 M76.51,372.87 L79.49,377.13 M79.49,372.87 L76.51,377.13 " stroke="#151515" stroke-width="0.95" fill="none"/>
<path d="M75.40,381.00 L80.60,381.00 M76.51,378.87 L79.49,383.13 M79.49,378.87 L76.51,383.13 " stroke="#151515" stroke-width="0.95" fill="none"/>
<path d="M75.40,387.00 L80.60,387.00 M76.51,384.87 L79.49,389.13 M79.49,384.87 L76.51,389.13 " stroke="#151515" stroke-width="0.95" fill="none"/>
<path d="M75.40,393.00 L80.60,393.00 M76.51,390.87 L79.49,395.13 M79.49,390.87 L76.51,395.13 " stroke="#151515" stroke-width="0.95" fill="none"/>
<text x="255.9" y="268.2" font-size="11" text-anchor="start" fill="#111" font-weight="normal" font-style="normal" stroke="#111" stroke-width="0.22">(ii)</text>
<rect x="295.2" y="264.4" width="181.60000000000002" height="25.5" fill="#344b7d" stroke="#222" stroke-width="1.1"/>
<line x1="294.7" y1="289.9" x2="477.3" y2="289.9" stroke="#333" stroke-width="2.2"/>
<text x="385.2" y="281.1" font-size="11.5" text-anchor="middle" fill="#fff" font-weight="normal" font-style="normal" textLength="89.5" lengthAdjust="spacingAndGlyphs" stroke="#fff" stroke-width="0.08">1 mismatch event</text>
<path d="M294.9,291 V461.3 H477 V291" fill="none" stroke="#222" stroke-width="1.2"/>
<text x="294.9" y="472.90000000000003" font-size="9.9" text-anchor="middle" fill="#222" font-weight="normal" font-style="normal" stroke="#222" stroke-width="0.22">0</text>
<line x1="331.32" y1="461.3" x2="331.32" y2="458.1" stroke="#222" stroke-width="1.1"/>
<text x="331.32" y="472.90000000000003" font-size="9.9" text-anchor="middle" fill="#222" font-weight="normal" font-style="normal" stroke="#222" stroke-width="0.22">10</text>
<line x1="367.74" y1="461.3" x2="367.74" y2="458.1" stroke="#222" stroke-width="1.1"/>
<text x="367.74" y="472.90000000000003" font-size="9.9" text-anchor="middle" fill="#222" font-weight="normal" font-style="normal" stroke="#222" stroke-width="0.22">20</text>
<line x1="404.15999999999997" y1="461.3" x2="404.15999999999997" y2="458.1" stroke="#222" stroke-width="1.1"/>
<text x="404.15999999999997" y="472.90000000000003" font-size="9.9" text-anchor="middle" fill="#222" font-weight="normal" font-style="normal" stroke="#222" stroke-width="0.22">30</text>
<line x1="440.58" y1="461.3" x2="440.58" y2="458.1" stroke="#222" stroke-width="1.1"/>
<text x="440.58" y="472.90000000000003" font-size="9.9" text-anchor="middle" fill="#222" font-weight="normal" font-style="normal" stroke="#222" stroke-width="0.22">40</text>
<text x="477.0" y="472.90000000000003" font-size="9.9" text-anchor="middle" fill="#222" font-weight="normal" font-style="normal" stroke="#222" stroke-width="0.22">50</text>
<text x="385.7" y="491.0" font-size="11" text-anchor="middle" fill="#222" font-weight="normal" font-style="normal" textLength="82.5" lengthAdjust="spacingAndGlyphs" stroke="#222" stroke-width="0.12">Alignment score</text>
<text transform="translate(267.0,375.8) rotate(-90)" x="0" y="0" font-size="11" text-anchor="middle" fill="#222" font-weight="normal" font-style="normal" textLength="165" lengthAdjust="spacingAndGlyphs" stroke="#222" stroke-width="0.12">Event sequences aligned against</text>
<line x1="294.9" y1="319.5" x2="298.4" y2="319.5" stroke="#222" stroke-width="1"/>
<text transform="translate(290.1,331.59999999999997) rotate(-90)" x="0" y="0" font-size="9.5" text-anchor="start" fill="#3aa8e0" font-weight="normal" font-style="normal" textLength="22.3" lengthAdjust="spacingAndGlyphs" stroke="#3aa8e0" stroke-width="0.1">0MM</text>
<line x1="294.9" y1="376.4" x2="298.4" y2="376.4" stroke="#222" stroke-width="1"/>
<text transform="translate(290.1,387.65000000000003) rotate(-90)" x="0" y="0" font-size="9.5" text-anchor="start" fill="#2e4a80" font-weight="normal" font-style="normal" textLength="18.5" lengthAdjust="spacingAndGlyphs" stroke="#2e4a80" stroke-width="0.1">1MM</text>
<line x1="294.9" y1="432.8" x2="298.4" y2="432.8" stroke="#222" stroke-width="1"/>
<text transform="translate(290.1,447.20000000000005) rotate(-90)" x="0" y="0" font-size="9.5" text-anchor="start" fill="#7cc8d0" font-weight="normal" font-style="normal" textLength="20.2" lengthAdjust="spacingAndGlyphs" stroke="#7cc8d0" stroke-width="0.1">2MM</text>
<line x1="366.8" y1="319.5" x2="394.1" y2="319.5" stroke="#2a2a2a" stroke-width="1.1"/>
<line x1="413.8" y1="319.5" x2="439.8" y2="319.5" stroke="#2a2a2a" stroke-width="1.1"/>
<line x1="366.8" y1="313.0" x2="366.8" y2="326.0" stroke="#2a2a2a" stroke-width="1.1"/>
<line x1="439.8" y1="313.0" x2="439.8" y2="326.0" stroke="#2a2a2a" stroke-width="1.1"/>
<rect x="394.1" y="306.6" width="19.69999999999999" height="25.8" fill="#fff" stroke="#3aa8e0" stroke-width="2.7" stroke-linejoin="round"/>
<line x1="404" y1="307.2" x2="404" y2="331.8" stroke="#222" stroke-width="1.2"/>
<line x1="387.5" y1="376.4" x2="414.5" y2="376.4" stroke="#2a2a2a" stroke-width="1.1"/>
<line x1="434.2" y1="376.4" x2="459.5" y2="376.4" stroke="#2a2a2a" stroke-width="1.1"/>
<line x1="387.5" y1="369.9" x2="387.5" y2="382.9" stroke="#2a2a2a" stroke-width="1.1"/>
<line x1="459.5" y1="369.9" x2="459.5" y2="382.9" stroke="#2a2a2a" stroke-width="1.1"/>
<rect x="414.5" y="363.5" width="19.69999999999999" height="25.8" fill="#fff" stroke="#2e4a80" stroke-width="2.7" stroke-linejoin="round"/>
<line x1="424.3" y1="364.09999999999997" x2="424.3" y2="388.7" stroke="#222" stroke-width="1.2"/>
<line x1="367.8" y1="432.8" x2="394.1" y2="432.8" stroke="#2a2a2a" stroke-width="1.1"/>
<line x1="413.8" y1="432.8" x2="439.8" y2="432.8" stroke="#2a2a2a" stroke-width="1.1"/>
<line x1="367.8" y1="426.3" x2="367.8" y2="439.3" stroke="#2a2a2a" stroke-width="1.1"/>
<line x1="439.8" y1="426.3" x2="439.8" y2="439.3" stroke="#2a2a2a" stroke-width="1.1"/>
<rect x="394.1" y="419.90000000000003" width="19.69999999999999" height="25.8" fill="#fff" stroke="#7cc8d0" stroke-width="2.7" stroke-linejoin="round"/>
<line x1="404" y1="420.5" x2="404" y2="445.1" stroke="#222" stroke-width="1.2"/>
<line x1="356.9" y1="319" x2="356.9" y2="376.4" stroke="#222" stroke-width="1.1"/>
<path d="M348.80,339.60 L354.00,339.60 M349.91,337.47 L352.89,341.73 M352.89,337.47 L349.91,341.73 " stroke="#151515" stroke-width="0.95" fill="none"/>
<path d="M348.80,345.60 L354.00,345.60 M349.91,343.47 L352.89,347.73 M352.89,343.47 L349.91,347.73 " stroke="#151515" stroke-width="0.95" fill="none"/>
<path d="M348.80,351.60 L354.00,351.60 M349.91,349.47 L352.89,353.73 M352.89,349.47 L349.91,353.73 " stroke="#151515" stroke-width="0.95" fill="none"/>
<path d="M348.80,357.60 L354.00,357.60 M349.91,355.47 L352.89,359.73 M352.89,355.47 L349.91,359.73 " stroke="#151515" stroke-width="0.95" fill="none"/>
<line x1="344.4" y1="376.4" x2="344.4" y2="434.4" stroke="#222" stroke-width="1.1"/>
<path d="M335.80,397.50 L341.00,397.50 M336.91,395.37 L339.89,399.63 M339.89,395.37 L336.91,399.63 " stroke="#151515" stroke-width="0.95" fill="none"/>
<path d="M335.80,403.50 L341.00,403.50 M336.91,401.37 L339.89,405.63 M339.89,401.37 L336.91,405.63 " stroke="#151515" stroke-width="0.95" fill="none"/>
<path d="M335.80,409.50 L341.00,409.50 M336.91,407.37 L339.89,411.63 M339.89,407.37 L336.91,411.63 " stroke="#151515" stroke-width="0.95" fill="none"/>
<path d="M335.80,415.50 L341.00,415.50 M336.91,413.37 L339.89,417.63 M339.89,413.37 L336.91,417.63 " stroke="#151515" stroke-width="0.95" fill="none"/>
<text x="495.3" y="268.2" font-size="11" text-anchor="start" fill="#111" font-weight="normal" font-style="normal" stroke="#111" stroke-width="0.22">(iii)</text>
<rect x="535.4" y="266.5" width="183.20000000000005" height="25.0" fill="#84cad0" stroke="#222" stroke-width="1.1"/>
<line x1="534.9" y1="291.5" x2="719.1" y2="291.5" stroke="#333" stroke-width="2.2"/>
<text x="628.2" y="282.3" font-size="11.5" text-anchor="middle" fill="#fff" font-weight="normal" font-style="normal" textLength="96.6" lengthAdjust="spacingAndGlyphs" stroke="#fff" stroke-width="0.08">2 mismatch events</text>
<path d="M535.7,292 V461.3 H718.9 V292" fill="none" stroke="#222" stroke-width="1.2"/>
<text x="535.7" y="472.90000000000003" font-size="9.9" text-anchor="middle" fill="#222" font-weight="normal" font-style="normal" stroke="#222" stroke-width="0.22">0</text>
<line x1="572.34" y1="461.3" x2="572.34" y2="458.1" stroke="#222" stroke-width="1.1"/>
<text x="572.34" y="472.90000000000003" font-size="9.9" text-anchor="middle" fill="#222" font-weight="normal" font-style="normal" stroke="#222" stroke-width="0.22">10</text>
<line x1="608.98" y1="461.3" x2="608.98" y2="458.1" stroke="#222" stroke-width="1.1"/>
<text x="608.98" y="472.90000000000003" font-size="9.9" text-anchor="middle" fill="#222" font-weight="normal" font-style="normal" stroke="#222" stroke-width="0.22">20</text>
<line x1="645.62" y1="461.3" x2="645.62" y2="458.1" stroke="#222" stroke-width="1.1"/>
<text x="645.62" y="472.90000000000003" font-size="9.9" text-anchor="middle" fill="#222" font-weight="normal" font-style="normal" stroke="#222" stroke-width="0.22">30</text>
<line x1="682.26" y1="461.3" x2="682.26" y2="458.1" stroke="#222" stroke-width="1.1"/>
<text x="682.26" y="472.90000000000003" font-size="9.9" text-anchor="middle" fill="#222" font-weight="normal" font-style="normal" stroke="#222" stroke-width="0.22">40</text>
<text x="718.9" y="472.90000000000003" font-size="9.9" text-anchor="middle" fill="#222" font-weight="normal" font-style="normal" stroke="#222" stroke-width="0.22">50</text>
<text x="626.6" y="491.0" font-size="11" text-anchor="middle" fill="#222" font-weight="normal" font-style="normal" textLength="82.5" lengthAdjust="spacingAndGlyphs" stroke="#222" stroke-width="0.12">Alignment score</text>
<text transform="translate(506.0,379.5) rotate(-90)" x="0" y="0" font-size="11" text-anchor="middle" fill="#222" font-weight="normal" font-style="normal" textLength="165" lengthAdjust="spacingAndGlyphs" stroke="#222" stroke-width="0.12">Event sequences aligned against</text>
<line x1="535.7" y1="320.6" x2="539.2" y2="320.6" stroke="#222" stroke-width="1"/>
<text transform="translate(530.3,332.59999999999997) rotate(-90)" x="0" y="0" font-size="9.5" text-anchor="start" fill="#3aa8e0" font-weight="normal" font-style="normal" textLength="22.3" lengthAdjust="spacingAndGlyphs" stroke="#3aa8e0" stroke-width="0.1">0MM</text>
<line x1="535.7" y1="377.0" x2="539.2" y2="377.0" stroke="#222" stroke-width="1"/>
<text transform="translate(530.3,386.55) rotate(-90)" x="0" y="0" font-size="9.5" text-anchor="start" fill="#2e4a80" font-weight="normal" font-style="normal" textLength="18.5" lengthAdjust="spacingAndGlyphs" stroke="#2e4a80" stroke-width="0.1">1MM</text>
<line x1="535.7" y1="433.3" x2="539.2" y2="433.3" stroke="#222" stroke-width="1"/>
<text transform="translate(530.3,444.20000000000005) rotate(-90)" x="0" y="0" font-size="9.5" text-anchor="start" fill="#7cc8d0" font-weight="normal" font-style="normal" textLength="20.2" lengthAdjust="spacingAndGlyphs" stroke="#7cc8d0" stroke-width="0.1">2MM</text>
<line x1="602.9" y1="320.6" x2="622.4" y2="320.6" stroke="#2a2a2a" stroke-width="1.1"/>
<line x1="636.4" y1="320.6" x2="657.8" y2="320.6" stroke="#2a2a2a" stroke-width="1.1"/>
<line x1="602.9" y1="314.1" x2="602.9" y2="327.1" stroke="#2a2a2a" stroke-width="1.1"/>
<line x1="657.8" y1="314.1" x2="657.8" y2="327.1" stroke="#2a2a2a" stroke-width="1.1"/>
<rect x="622.4" y="307.70000000000005" width="14.0" height="25.8" fill="#fff" stroke="#3aa8e0" stroke-width="2.7" stroke-linejoin="round"/>
<line x1="627.4" y1="308.3" x2="627.4" y2="332.90000000000003" stroke="#222" stroke-width="1.2"/>
<line x1="621.6" y1="377.0" x2="641.2" y2="377.0" stroke="#2a2a2a" stroke-width="1.1"/>
<line x1="654.7" y1="377.0" x2="675.9" y2="377.0" stroke="#2a2a2a" stroke-width="1.1"/>
<line x1="621.6" y1="370.5" x2="621.6" y2="383.5" stroke="#2a2a2a" stroke-width="1.1"/>
<line x1="675.9" y1="370.5" x2="675.9" y2="383.5" stroke="#2a2a2a" stroke-width="1.1"/>
<rect x="641.2" y="364.1" width="13.5" height="25.8" fill="#fff" stroke="#2e4a80" stroke-width="2.7" stroke-linejoin="round"/>
<line x1="645.6" y1="364.7" x2="645.6" y2="389.3" stroke="#222" stroke-width="1.2"/>
<line x1="641.4" y1="433.3" x2="661.3" y2="433.3" stroke="#2a2a2a" stroke-width="1.1"/>
<line x1="675.1" y1="433.3" x2="696.3" y2="433.3" stroke="#2a2a2a" stroke-width="1.1"/>
<line x1="641.4" y1="426.8" x2="641.4" y2="439.8" stroke="#2a2a2a" stroke-width="1.1"/>
<line x1="696.3" y1="426.8" x2="696.3" y2="439.8" stroke="#2a2a2a" stroke-width="1.1"/>
<rect x="661.3" y="420.40000000000003" width="13.800000000000068" height="25.8" fill="#fff" stroke="#7cc8d0" stroke-width="2.7" stroke-linejoin="round"/>
<line x1="665.6" y1="421.0" x2="665.6" y2="445.6" stroke="#222" stroke-width="1.2"/>
<line x1="575.5" y1="322" x2="575.5" y2="432.8" stroke="#222" stroke-width="1.1"/>
<path d="M567.30,368.00 L572.50,368.00 M568.41,365.87 L571.39,370.13 M571.39,365.87 L568.41,370.13 " stroke="#151515" stroke-width="0.95" fill="none"/>
<path d="M567.30,374.00 L572.50,374.00 M568.41,371.87 L571.39,376.13 M571.39,371.87 L568.41,376.13 " stroke="#151515" stroke-width="0.95" fill="none"/>
<path d="M567.30,380.00 L572.50,380.00 M568.41,377.87 L571.39,382.13 M571.39,377.87 L568.41,382.13 " stroke="#151515" stroke-width="0.95" fill="none"/>
<path d="M567.30,386.00 L572.50,386.00 M568.41,383.87 L571.39,388.13 M571.39,383.87 L568.41,388.13 " stroke="#151515" stroke-width="0.95" fill="none"/>
<line x1="592.5" y1="377.1" x2="592.5" y2="432.8" stroke="#222" stroke-width="1.1"/>
<path d="M585.10,397.50 L590.30,397.50 M586.21,395.37 L589.19,399.63 M589.19,395.37 L586.21,399.63 " stroke="#151515" stroke-width="0.95" fill="none"/>
<path d="M585.10,403.50 L590.30,403.50 M586.21,401.37 L589.19,405.63 M589.19,401.37 L586.21,405.63 " stroke="#151515" stroke-width="0.95" fill="none"/>
<path d="M585.10,409.50 L590.30,409.50 M586.21,407.37 L589.19,411.63 M589.19,407.37 L586.21,411.63 " stroke="#151515" stroke-width="0.95" fill="none"/>
<path d="M585.10,415.50 L590.30,415.50 M586.21,413.37 L589.19,417.63 M589.19,413.37 L586.21,417.63 " stroke="#151515" stroke-width="0.95" fill="none"/></svg>
</body></html>
